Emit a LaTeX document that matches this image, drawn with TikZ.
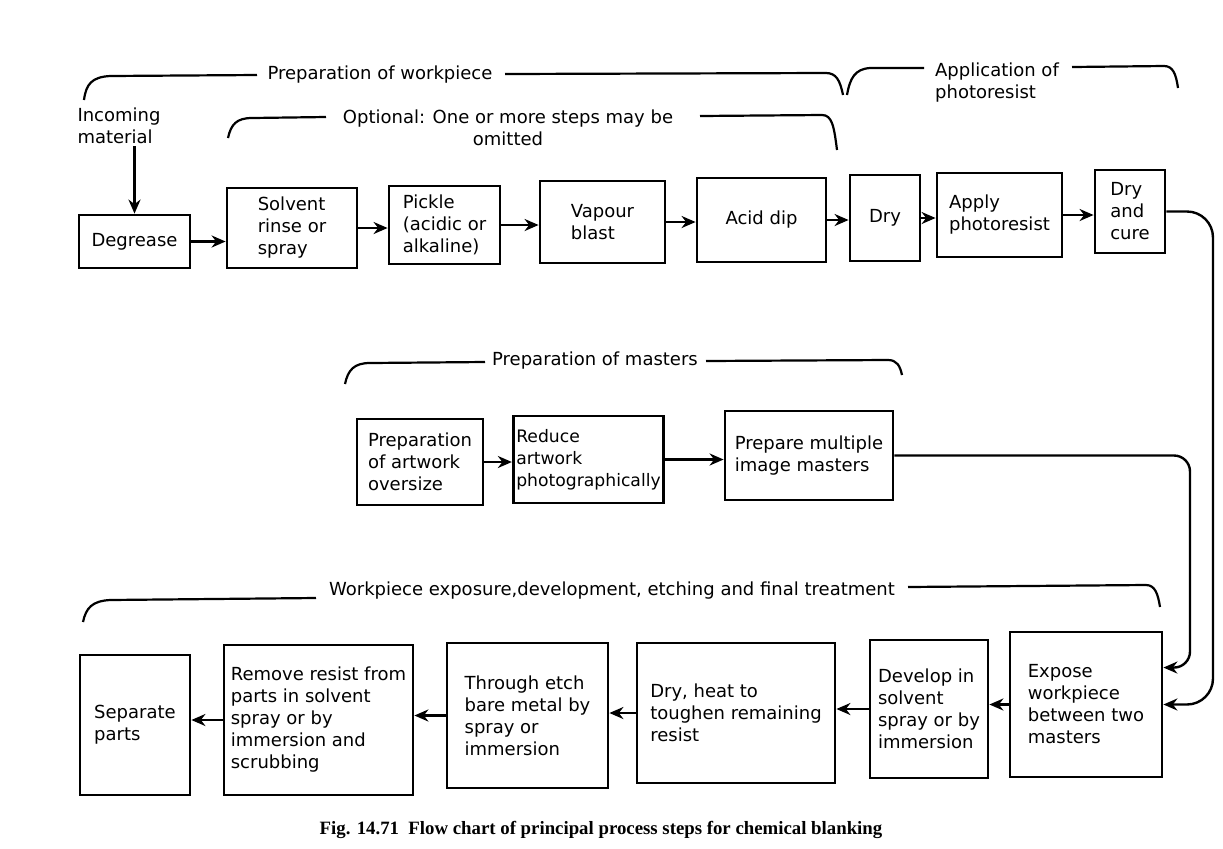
\documentclass[tikz,border=0pt]{standalone}
\usepackage{fontspec}
\setmainfont{DejaVu Sans}
\newfontfamily\capfont{Liberation Serif}
\usetikzlibrary{arrows.meta,calc}
\begin{document}
\begin{tikzpicture}[x=0.5pt,y=-0.5pt,
 box/.style={draw, line width=1.4pt, align=left, inner sep=1.5pt, font=\fontsize{9}{11}\selectfont},
 lbl/.style={font=\fontsize{9}{11}\selectfont, inner sep=1pt},
 flow/.style={line width=1.2pt, -{Stealth[length=7pt,width=6pt]}},
 brk/.style={line width=1.1pt},
 capt/.style={font=\capfont\bfseries\fontsize{9.4}{11}\selectfont, inner sep=0pt}]
\useasboundingbox[fill=white] (0,0) rectangle (1223,848);

% ---------- top row ----------
\node[box, minimum width=111*0.5pt, minimum height=53*0.5pt] (deg) at (134.5,241.5) {Degrease};
\node[box, minimum width=130*0.5pt, minimum height=80*0.5pt] (sol) at (292,228) {Solvent\\rinse or\\spray};
\node[box, minimum width=111*0.5pt, minimum height=78*0.5pt] (pic) at (444.5,225) {Pickle\\(acidic or\\alkaline)};
\node[box, minimum width=125*0.5pt, minimum height=82*0.5pt] (vap) at (602.5,222) {Vapour\\blast};
\node[box, minimum width=129*0.5pt, minimum height=84*0.5pt] (acid) at (761.5,220) {Acid dip};
\node[box, minimum width=70*0.5pt, minimum height=86*0.5pt] (dry) at (885,218) {Dry};
\node[box, minimum width=125*0.5pt, minimum height=84*0.5pt] (app) at (999.5,215) {Apply\\photoresist};
\node[box, minimum width=70*0.5pt, minimum height=83*0.5pt] (cure) at (1130,211.5) {Dry\\and\\cure};

\node[lbl, align=left] (inc) at (119,126) {Incoming\\material};
\draw[flow] (inc.south -| deg.north) -- (deg.north);

\draw[flow] (deg.east) -- (deg.east -| sol.west);
\draw[flow] (sol.east) -- (sol.east -| pic.west);
\draw[flow] (pic.east) -- (pic.east -| vap.west);
\draw[flow] (vap.east) -- (vap.east -| acid.west);
\draw[flow] (acid.east) -- (acid.east -| dry.west);
\draw[flow] (dry.east) -- (dry.east -| app.west);
\draw[flow] (app.east) -- (app.east -| cure.west);

% ---------- middle row ----------
\node[box, minimum width=126*0.5pt, minimum height=86*0.5pt] (art) at (420,462) {Preparation\\of artwork\\oversize};
\node[box, minimum width=141*0.5pt, minimum height=87*0.5pt, font=\fontsize{8.6}{11}\selectfont] (red) at (588.5,459.5) {Reduce\\artwork\\photographically};
\node[box, minimum width=168*0.5pt, minimum height=89*0.5pt] (mul) at (809,455.5) {Prepare multiple\\image masters};
\draw[flow] (art.east) -- (art.east -| red.west);
\draw[flow] (red.east) -- (red.east -| mul.west);

% ---------- bottom row ----------
\node[box, minimum width=110*0.5pt, minimum height=140*0.5pt] (sep) at (135,725) {Separate\\parts\hspace*{10pt}};
\node[box, minimum width=189*0.5pt, minimum height=150*0.5pt] (rem) at (318.5,720) {Remove resist from\\parts in solvent\\spray or by\\immersion and\\scrubbing};
\node[box, minimum width=161*0.5pt, minimum height=145*0.5pt] (thr) at (527.5,715.5) {Through etch\\bare metal by\\spray or\\immersion};
\node[box, minimum width=198*0.5pt, minimum height=140*0.5pt] (dh) at (736,713) {Dry, heat to\\toughen remaining\\resist};
\node[box, minimum width=118*0.5pt, minimum height=138*0.5pt] (dev) at (929,709) {Develop in\\solvent\\spray or by\\immersion};
\node[box, minimum width=152*0.5pt, minimum height=145*0.5pt] (exp) at (1086,704.5) {Expose\\workpiece\\between two\\masters};

\draw[flow] (exp.west) -- (exp.west -| dev.east);
\draw[flow] (dev.west) -- (dev.west -| dh.east);
\draw[flow] (dh.west) -- (dh.west -| thr.east);
\draw[flow] (thr.west) -- (thr.west -| rem.east);
\draw[flow] (rem.west) -- (rem.west -| sep.east);

% ---------- right-hand connectors ----------
\coordinate (e1) at ($(exp.north east)!0.25!(exp.south east)$);
\coordinate (e2) at ($(exp.north east)!0.5!(exp.south east)$);
\coordinate (k1) at (1190,455.5);
\coordinate (k2) at (1213,211.5);
\draw[flow, rounded corners=8pt] (mul.east) -- (k1) |- (e1);
\draw[flow, rounded corners=13pt] (cure.east) -- (k2) |- (e2);

% ---------- bracket labels ----------
\node[lbl] (lwp) at (380,75) {Preparation of workpiece};
\node[lbl, align=left] (lapp) at (997,83) {Application of\\photoresist};
\node[lbl, align=center] (lopt) at (508,128) {Optional: One or more steps may be\\omitted};
\node[lbl] (lmas) at (595,361) {Preparation of masters};
\node[lbl] (lwex) at (612,591) {Workpiece exposure,development, etching and final treatment};

% ---------- brackets ----------
\draw[brk] (84,100) .. controls (86,84) and (92,77) .. (110,76) -- (257,75);
\draw[brk] (505,74) -- (826,73) .. controls (836,73) and (840,80) .. (843,95);
\draw[brk] (847,95) .. controls (850,78) and (855,69) .. (870,68) -- (924,68);
\draw[brk] (1072,67) -- (1164,66) .. controls (1173,66) and (1176,74) .. (1178,88);
\draw[brk] (228,138) .. controls (231,124) and (237,118) .. (252,118) -- (326,117);
\draw[brk] (700,116) -- (822,115) .. controls (832,115) and (834,126) .. (837,150);
\draw[brk] (345,384) .. controls (348,370) and (354,363) .. (370,363) -- (485,362);
\draw[brk] (706,361) -- (888,360) .. controls (897,360) and (900,366) .. (902,375);
\draw[brk] (83,622) .. controls (86,608) and (92,601) .. (110,600) -- (316,598);
\draw[brk] (908,587) -- (1146,585) .. controls (1155,585) and (1158,594) .. (1160,607);

% ---------- caption ----------
\node[capt] (cap) at (601,830) {Fig. 14.71\enspace Flow chart of principal process steps for chemical blanking};
\end{tikzpicture}
\end{document}
